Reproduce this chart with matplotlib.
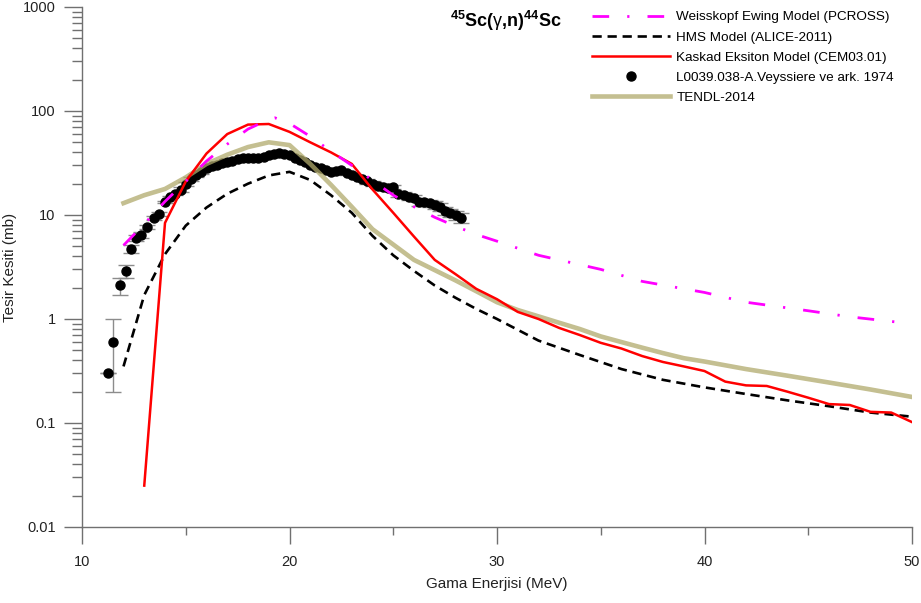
import numpy as np
import matplotlib
matplotlib.use("Agg")
from matplotlib import pyplot as plt
from matplotlib.lines import Line2D
from matplotlib.ticker import LogLocator, NullFormatter, FixedLocator

plt.rcParams['font.family'] = ['Liberation Sans', 'DejaVu Sans']
plt.rcParams['mathtext.fontset'] = 'custom'
plt.rcParams['mathtext.rm'] = 'Liberation Sans'
plt.rcParams['mathtext.it'] = 'Liberation Sans'
plt.rcParams['mathtext.bf'] = 'Liberation Sans:bold'

# %% data
# Weisskopf Ewing (PCROSS)
we_e = [12, 13, 14, 15, 16, 17, 18, 19, 19.3, 20, 21, 22, 23, 24, 25, 26, 27, 28, 29, 30,
        32, 35, 37, 40, 42, 45, 47, 50]
we_s = [5.1, 8.2, 13.5, 21, 33, 48, 67, 83, 86, 76, 57, 41, 30, 21.5, 15.5, 12, 9.5, 7.8, 6.5, 5.6,
        4.1, 3.0, 2.3, 1.8, 1.45, 1.2, 1.05, 0.9]

# HMS (ALICE-2011)
hms_e = [12, 13, 14, 15, 16, 17, 18, 19, 20, 21, 22, 23, 24, 25, 26, 27, 28, 29, 30,
         32, 34, 36, 38, 40, 42, 44, 46, 48, 50]
hms_s = [0.35, 1.7, 4.2, 7.9, 11.8, 16, 20, 24, 26, 21.7, 15.5, 10.5, 6.3, 4.1, 2.9, 2.1, 1.6, 1.25, 1.0,
         0.62, 0.45, 0.33, 0.26, 0.22, 0.19, 0.165, 0.145, 0.126, 0.115]

# Kaskad Eksiton (CEM03.01)
cem_e = [13, 14, 15, 16, 17, 18, 19, 20, 21, 22, 23, 24, 25, 26, 27, 28, 29, 30, 31, 32,
         33, 34, 35, 36, 37, 38, 39, 40, 41, 42, 43, 44, 45, 46, 47, 48, 49, 50]
cem_s = [0.025, 8.4, 21, 39, 60, 74, 75, 63, 50, 40, 31, 17.6, 10.5, 6.2, 3.7, 2.7, 1.95, 1.55, 1.17, 1.0,
         0.82, 0.70, 0.59, 0.52, 0.44, 0.386, 0.35, 0.316, 0.25, 0.23, 0.227, 0.2, 0.175, 0.152, 0.149,
         0.128, 0.126, 0.102]

# TENDL-2014
tendl_e = [12, 13, 14, 15, 16, 17, 18, 19, 20, 21, 22, 23, 24, 25, 26, 27, 28, 29, 30, 31, 32,
           33, 34, 35, 36, 37, 38, 39, 40, 42, 44, 46, 48, 50]
tendl_s = [13, 15.5, 17.8, 23, 31, 38, 45, 50, 47, 31, 19.5, 12, 7.3, 5.2, 3.7, 2.95, 2.35, 1.85, 1.45,
           1.22, 1.06, 0.92, 0.8, 0.68, 0.6, 0.53, 0.47, 0.42, 0.39, 0.33, 0.285, 0.245, 0.21, 0.178]

# EXFOR L0039.038 Veyssiere 1974
exp_e = [11.25, 11.5, 11.85, 12.1, 12.35, 12.6, 12.85, 13.15, 13.45, 13.7, 14.0, 14.25, 14.5,
         14.75, 15.0, 15.25, 15.5, 15.75, 16.0, 16.25, 16.5, 16.75, 17.0, 17.25, 17.5, 17.75,
         18.0, 18.25, 18.5, 18.75, 19.0, 19.25, 19.5, 19.75, 20.0, 20.25, 20.5, 20.75, 21.0,
         21.25, 21.5, 21.75, 22.0, 22.25, 22.5, 22.75, 23.0, 23.25, 23.5, 23.75, 24.0, 24.25,
         24.5, 24.75, 25.0, 25.25, 25.5, 25.75, 26.0, 26.25, 26.5, 26.75, 27.0, 27.25, 27.5,
         27.75, 28.0, 28.25]
exp_s = [0.30, 0.60, 2.1, 2.9, 4.7, 6.0, 6.4, 7.7, 9.4, 10.2, 13.3, 14.9, 15.9,
         17.5, 19.8, 22.0, 24.0, 26.0, 28.0, 29.5, 30.5, 31.3, 32.2, 33.2, 34.5, 35.3,
         35.0, 35.6, 35.3, 36.2, 37.5, 38.3, 39.5, 38.5, 37.6, 35.5, 33.8, 32.0, 30.3,
         29.2, 28.3, 27.0, 26.0, 26.5, 26.8, 25.2, 24.3, 23.2, 22.4, 21.0, 20.0, 19.2,
         18.5, 18.3, 18.6, 16.0, 15.5, 15.0, 14.5, 13.3, 13.2, 12.9, 12.5, 11.9, 11.0,
         10.5, 9.9, 9.4]
exp_err = [0.0, 0.4, 0.4, 0.4, 0.4, 0.4, 0.4, 0.4, 0.4, 0.4, 0.4, 0.4, 0.4] + [1.0] * 55

# %% plot
fig = plt.figure(figsize=(9.21, 6.03), dpi=100)
ax = fig.add_axes([82 / 921, 1 - 527 / 603, 830 / 921, 520 / 603])

ax.errorbar(exp_e, exp_s, yerr=exp_err, fmt='o', color='black', ms=6.5,
            ecolor='0.55', elinewidth=1.0, capsize=6, capthick=1.0, zorder=3)
ax.plot(tendl_e, tendl_s, color='#b0aa6c', alpha=0.75, lw=3.3, zorder=4)
ax.plot(hms_e, hms_s, color='black', lw=1.9, dashes=(3.5, 2.2), zorder=5)
ax.plot(cem_e, cem_s, color='#ff0000', lw=1.8, zorder=6)
ax.plot(we_e, we_s, color='#ff00ff', lw=2.0, dashes=(6, 6.5, 0.8, 6.5), zorder=7)

ax.set_yscale('log')
ax.set_xlim(10, 50)
ax.set_ylim(0.01, 1000)
ax.xaxis.set_major_locator(FixedLocator([10, 20, 30, 40, 50]))
ax.xaxis.set_minor_locator(FixedLocator([15, 25, 35, 45]))
ax.yaxis.set_minor_locator(LogLocator(base=10, subs=np.arange(2, 10)))
ax.yaxis.set_minor_formatter(NullFormatter())
ax.set_yticks([0.01, 0.1, 1, 10, 100, 1000])
ax.set_yticklabels(['0.01', '0.1', '1', '10', '100', '1000'])

for s in ['top', 'right']:
    ax.spines[s].set_visible(False)
for s in ['left', 'bottom']:
    ax.spines[s].set_color('#707070')
    ax.spines[s].set_linewidth(1.0)

ax.tick_params(axis='y', which='major', direction='out', length=13, width=1.0, color='#707070',
               pad=6, labelsize=10.5, labelcolor='#222222')
ax.tick_params(axis='y', which='minor', direction='out', length=7, width=1.0, color='#707070')
ax.tick_params(axis='x', which='major', direction='out', length=12, width=1.0, color='#707070',
               pad=8, labelsize=10.5, labelcolor='#222222')
ax.tick_params(axis='x', which='minor', direction='out', length=6, width=1.0, color='#707070')

ax.set_xlabel('Gama Enerjisi (MeV)', fontsize=11, color='#222222', labelpad=6)
ax.set_ylabel('Tesir Kesiti (mb)', fontsize=11, color='#222222')
ax.yaxis.set_label_coords((17 - 82) / 830, 0.5)

ax.text((506 - 82) / 830, 1 - 14 / 520, r'$\mathbf{^{45}}$Sc($\gamma$,n)$\mathbf{^{44}}$Sc',
        transform=ax.transAxes, ha='center', va='center', fontsize=13, fontweight='bold')

handles = [
    Line2D([], [], color='#ff00ff', lw=2.0, dashes=(6, 6.5, 0.8, 6.5)),
    Line2D([], [], color='black', lw=1.9, dashes=(3.5, 2.2)),
    Line2D([], [], color='#ff0000', lw=1.8),
    Line2D([], [], color='black', ls='none', marker='o', ms=6.5),
    Line2D([], [], color='#b0aa6c', alpha=0.75, lw=3.3),
]
labels = ['Weisskopf Ewing Model (PCROSS)', 'HMS Model (ALICE-2011)',
          'Kaskad Eksiton Model (CEM03.01)', 'L0039.038-A.Veyssiere ve ark. 1974',
          'TENDL-2014']
ax.legend(handles, labels, loc='upper left', bbox_to_anchor=((592 - 82) / 830, 1 - 4 / 520),
          frameon=False, fontsize=9.7, handlelength=5.8, handletextpad=0.45,
          labelspacing=0.57, borderpad=0, borderaxespad=0, numpoints=1)

plt.savefig('out.png', dpi=100)
